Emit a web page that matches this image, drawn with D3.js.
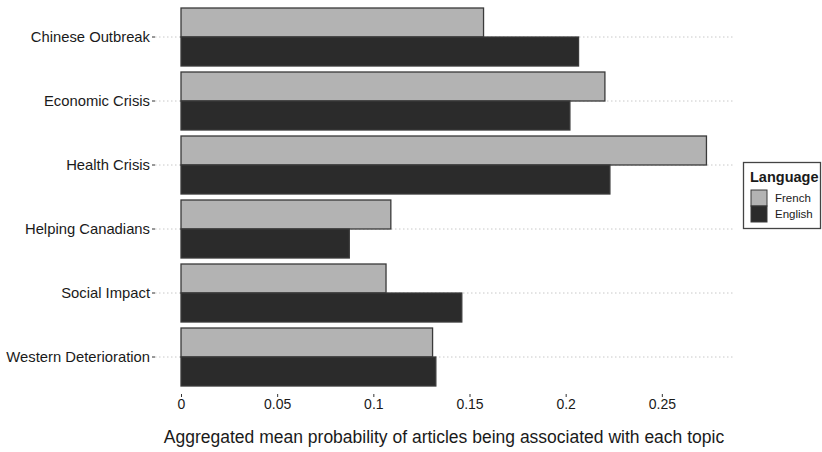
<!DOCTYPE html>
<html>
<head>
<meta charset="utf-8">
<script src="https://cdn.jsdelivr.net/npm/d3@7"></script>
<style>
  body { margin: 0; background: #fff; }
  svg { display: block; font-family: "Liberation Sans", Arial, Helvetica, sans-serif; }
</style>
</head>
<body>
<svg id="chart" width="822" height="452"></svg>
<script>
const categories = ["Chinese Outbreak", "Economic Crisis", "Health Crisis", "Helping Canadians", "Social Impact", "Western Deterioration"];
const languages = ["French", "English"];
const frenchValues = [0.1573, 0.2204, 0.2732, 0.1091, 0.1066, 0.1308];
const englishValues = [0.2067, 0.2022, 0.2230, 0.0875, 0.1460, 0.1325];
const xTicks = [0, 0.05, 0.1, 0.15, 0.2, 0.25];
const xTickLabels = ["0", "0.05", "0.1", "0.15", "0.2", "0.25"];
const xTitle = "Aggregated mean probability of articles being associated with each topic";
const legendTitle = "Language";

const colors = { French: "#b3b3b3", English: "#2b2b2b" };

const svg = d3.select("#chart");
const panelLeft = 155, panelRight = 733, panelBottom = 394;

const x = d3.scaleLinear().domain([0, 0.287]).range([181, 733]);
const y = d3.scaleBand().domain(categories).range([5, 389]).paddingInner(0.09375).paddingOuter(0.046875);
const ySub = d3.scaleBand().domain(languages).range([0, y.bandwidth()]);

// gridlines (horizontal, at category centers)
svg.append("g").selectAll("line").data(categories).join("line")
  .attr("x1", panelLeft).attr("x2", panelRight)
  .attr("y1", d => y(d) + y.bandwidth() / 2).attr("y2", d => y(d) + y.bandwidth() / 2)
  .attr("stroke", "#c8c8c8").attr("stroke-width", 1).attr("stroke-dasharray", "1.5,2.5");

// bars
const rows = [];
categories.forEach((c, i) => {
  rows.push({ cat: c, lang: "French", v: frenchValues[i] });
  rows.push({ cat: c, lang: "English", v: englishValues[i] });
});
svg.append("g").selectAll("rect").data(rows).join("rect")
  .attr("x", x(0))
  .attr("y", d => y(d.cat) + ySub(d.lang))
  .attr("width", d => x(d.v) - x(0))
  .attr("height", ySub.bandwidth())
  .attr("fill", d => colors[d.lang])
  .attr("stroke", "#3a3a3a").attr("stroke-width", 1.3);

// y axis
const yAxis = svg.append("g").attr("transform", `translate(${panelLeft},0)`)
  .call(d3.axisLeft(y).tickSize(3).tickPadding(2));
yAxis.select(".domain").remove();
yAxis.selectAll(".tick line").attr("stroke", "#333");
yAxis.selectAll(".tick text").attr("font-size", 14.8).attr("fill", "#1a1a1a").attr("font-family", null);

// x axis
const xAxis = svg.append("g").attr("transform", `translate(0,${panelBottom})`)
  .call(d3.axisBottom(x).tickValues(xTicks).tickFormat((d, i) => xTickLabels[i]).tickSize(3).tickPadding(2));
xAxis.select(".domain").remove();
xAxis.selectAll(".tick line").attr("stroke", "#333");
xAxis.selectAll(".tick text").attr("font-size", 14).attr("fill", "#1a1a1a").attr("font-family", null);

// x title
svg.append("text").attr("x", (panelLeft + panelRight) / 2).attr("y", 443)
  .attr("text-anchor", "middle").attr("font-size", 17.5).attr("fill", "#1a1a1a").text(xTitle);

// legend
const lg = svg.append("g");
lg.append("rect").attr("x", 743.5).attr("y", 162.5).attr("width", 77).attr("height", 66)
  .attr("fill", "#fff").attr("stroke", "#444").attr("stroke-width", 1.3);
lg.append("text").attr("x", 750).attr("y", 182).attr("font-size", 14.5).attr("font-weight", "bold")
  .attr("fill", "#1a1a1a").text(legendTitle);
const keyY = d3.scaleBand().domain(languages).range([190, 222]);
lg.selectAll("rect.key").data(languages).join("rect").attr("class", "key")
  .attr("x", 751).attr("y", d => keyY(d)).attr("width", 16).attr("height", keyY.bandwidth())
  .attr("fill", d => colors[d]).attr("stroke", "#3a3a3a").attr("stroke-width", 1);
lg.selectAll("text.kl").data(languages).join("text").attr("class", "kl")
  .attr("x", 775).attr("y", d => keyY(d) + keyY.bandwidth() / 2 + 4)
  .attr("font-size", 11.5).attr("fill", "#1a1a1a").text(d => d);
</script>
</body>
</html>
